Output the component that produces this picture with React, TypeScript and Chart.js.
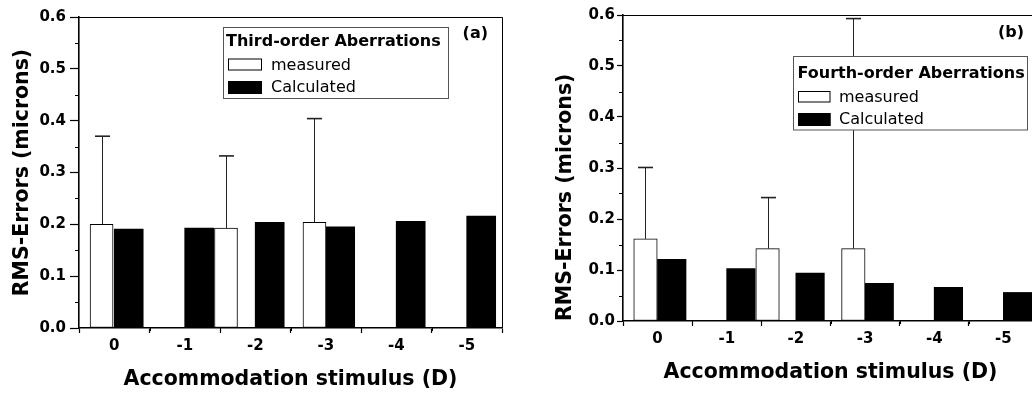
import React, { useEffect, useRef } from 'react';
import { Chart, registerables } from 'chart.js';

Chart.register(...registerables);

// ---------- data ----------
const stimulus = [0, -1, -2, -3, -4, -5];
const xTickValues = [0, -1, -2, -3, -4, -5];
const yTickValues = [0, 0.1, 0.2, 0.3, 0.4, 0.5, 0.6];
const seriesLabels = ['measured', 'Calculated'];

// (a) third-order aberrations
const thirdCalculated = [0.191, 0.193, 0.204, 0.195, 0.206, 0.216];
const thirdMeasuredAt = [0.18, -1.585, -2.84];
const thirdMeasured = [0.2, 0.193, 0.204];
const thirdMeasuredSD = [0.17, 0.139, 0.2];

// (b) fourth-order aberrations
const fourthCalculated = [0.121, 0.103, 0.094, 0.074, 0.066, 0.056];
const fourthMeasuredAt = [0.175, -1.59, -2.83];
const fourthMeasured = [0.161, 0.142, 0.142];
const fourthMeasuredSD = [0.14, 0.1, 0.451];

// ---------- layout ----------
const CALC_SHIFT = 0.205; // calculated bars sit just right of their tick
const FONT = 'DejaVu Sans';

type Panel = {
  legendTitle: string;
  letter: string;
  calc: number[];
  measAt: number[];
  meas: number[];
  sd: number[];
  width: number;
  padTop: number;
  padRight: number;
  yAxisWidth: number;
  xAxisHeight: number;
  yTickLen: number;
  yTickPad: number;
  yTitlePad: number;
  yTitleAlign: 'center' | 'start';
  xTitlePad: number;
  calcThick: number;
  measThick: number;
  legend: {
    x: number; y: number; w: number; h: number;
    titleX: number; titleY: number;
    swX: number; swW: number;
    sw1Y: number; sw1H: number; sw2Y: number; sw2H: number;
    textX: number; t1Y: number; t2Y: number;
  };
  letterX: number;
  letterY: number;
};

const panelA: Panel = {
  legendTitle: 'Third-order Aberrations',
  letter: '(a)',
  calc: thirdCalculated,
  measAt: thirdMeasuredAt,
  meas: thirdMeasured,
  sd: thirdMeasuredSD,
  width: 516,
  padTop: 17,
  padRight: 14,
  yAxisWidth: 79,
  xAxisHeight: 70,
  yTickLen: 9,
  yTickPad: 4,
  yTitlePad: 10.5,
  yTitleAlign: 'center',
  xTitlePad: 6.5,
  calcThick: 29,
  measThick: 23,
  legend: {
    x: 223.5, y: 27.5, w: 225, h: 71,
    titleX: 226, titleY: 45.5,
    swX: 228, swW: 34,
    sw1Y: 58.5, sw1H: 12, sw2Y: 81, sw2H: 13,
    textX: 271, t1Y: 70, t2Y: 91.5,
  },
  letterX: 488,
  letterY: 38,
};

const panelB: Panel = {
  legendTitle: 'Fourth-order Aberrations',
  letter: '(b)',
  calc: fourthCalculated,
  measAt: fourthMeasuredAt,
  meas: fourthMeasured,
  sd: fourthMeasuredSD,
  width: 540,
  padTop: 15,
  padRight: 18,
  yAxisWidth: 107,
  xAxisHeight: 77,
  yTickLen: 6,
  yTickPad: 2,
  yTitlePad: 37.5,
  yTitleAlign: 'start',
  xTitlePad: 13,
  calcThick: 28.5,
  measThick: 23.5,
  legend: {
    x: 277.5, y: 56.5, w: 234, h: 73.5,
    titleX: 281.5, titleY: 77.5,
    swX: 282, swW: 32.5,
    sw1Y: 91, sw1H: 11.5, sw2Y: 113, sw2H: 13,
    textX: 323, t1Y: 101.5, t2Y: 124,
  },
  letterX: 508,
  letterY: 37,
};

function makeDecor(p: Panel) {
  return {
    id: 'decor',
    afterDatasetsDraw(chart: any) {
      const { ctx, scales } = chart;
      const y = scales.y;
      const meta = chart.getDatasetMeta(0);
      const ds = chart.data.datasets[0].data as { x: number; y: number }[];
      ctx.save();
      ctx.strokeStyle = '#222';
      meta.data.forEach((bar: any, i: number) => {
        const top = y.getPixelForValue(ds[i].y + p.sd[i]);
        const bx = Math.round(bar.x) + 0.5;
        ctx.lineWidth = 1;
        ctx.beginPath();
        ctx.moveTo(bx, bar.y);
        ctx.lineTo(bx, top);
        ctx.stroke();
        ctx.lineWidth = 1.6;
        ctx.beginPath();
        ctx.moveTo(bx - 7.5, top);
        ctx.lineTo(bx + 7.5, top);
        ctx.stroke();
      });
      ctx.restore();
    },
    afterDraw(chart: any) {
      const { ctx, chartArea, scales } = chart;
      const xs = scales.x;
      const ys = scales.y;
      ctx.save();
      // thin top / right frame
      ctx.strokeStyle = '#000';
      ctx.lineWidth = 1;
      ctx.beginPath();
      ctx.moveTo(chartArea.left, chartArea.top + 0.5);
      ctx.lineTo(chartArea.right + 0.5, chartArea.top + 0.5);
      ctx.lineTo(chartArea.right + 0.5, chartArea.bottom);
      ctx.stroke();
      // minor ticks
      ctx.lineWidth = 1;
      for (let i = 0; i < yTickValues.length - 1; i++) {
        const v = (yTickValues[i] + yTickValues[i + 1]) / 2;
        const py = Math.round(ys.getPixelForValue(v)) + 0.5;
        ctx.beginPath();
        ctx.moveTo(chartArea.left, py);
        ctx.lineTo(chartArea.left - 4, py);
        ctx.stroke();
      }
      for (let i = 0; i < xTickValues.length - 1; i++) {
        const v = (xTickValues[i] + xTickValues[i + 1]) / 2;
        const px = Math.round(xs.getPixelForValue(v)) + 0.5;
        ctx.beginPath();
        ctx.moveTo(px, chartArea.bottom);
        ctx.lineTo(px, chartArea.bottom + 3);
        ctx.stroke();
      }
      // legend
      const L = p.legend;
      ctx.fillStyle = '#fff';
      ctx.fillRect(L.x, L.y, L.w, L.h);
      ctx.strokeStyle = '#555';
      ctx.lineWidth = 1;
      ctx.strokeRect(L.x, L.y, L.w, L.h);
      ctx.fillStyle = '#000';
      ctx.textBaseline = 'alphabetic';
      ctx.textAlign = 'left';
      ctx.font = `bold 16px "${FONT}"`;
      ctx.fillText(p.legendTitle, L.titleX, L.titleY);
      const dsets = chart.data.datasets;
      const rows = [
        { ds: dsets[0], sy: L.sw1Y, sh: L.sw1H, ty: L.t1Y },
        { ds: dsets[1], sy: L.sw2Y, sh: L.sw2H, ty: L.t2Y },
      ];
      ctx.font = `16px "${FONT}"`;
      rows.forEach((r) => {
        ctx.fillStyle = r.ds.backgroundColor;
        ctx.fillRect(L.swX, r.sy, L.swW, r.sh);
        ctx.strokeStyle = '#000';
        ctx.lineWidth = 1;
        ctx.strokeRect(L.swX + 0.5, r.sy + 0.5, L.swW - 1, r.sh - 1);
        ctx.fillStyle = '#000';
        ctx.fillText(r.ds.label, L.textX, r.ty);
      });
      // panel letter
      ctx.font = `bold 16px "${FONT}"`;
      ctx.textAlign = 'right';
      ctx.fillText(p.letter, p.letterX, p.letterY);
      ctx.restore();
    },
  };
}

function buildChart(canvas: HTMLCanvasElement, p: Panel) {
  const tickFont = { family: FONT, size: 15, weight: 'bold' as const };
  const titleFont = { family: FONT, size: 20.5, weight: 'bold' as const };
  return new Chart(canvas, {
    type: 'bar',
    data: {
      datasets: [
        {
          label: seriesLabels[0],
          data: p.measAt.map((x, i) => ({ x, y: p.meas[i] })),
          backgroundColor: '#ffffff',
          borderColor: '#000000',
          borderWidth: 1,
          barThickness: p.measThick,
          grouped: false,
          borderSkipped: false,
        } as any,
        {
          label: seriesLabels[1],
          data: stimulus.map((s, i) => ({ x: s - CALC_SHIFT, y: p.calc[i] })),
          backgroundColor: '#000000',
          borderColor: '#000000',
          borderWidth: 0,
          barThickness: p.calcThick,
          grouped: false,
        } as any,
      ],
    },
    options: {
      animation: false,
      responsive: false,
      devicePixelRatio: 1,
      events: [],
      layout: { padding: { top: p.padTop, right: p.padRight, left: 0, bottom: 0 } },
      plugins: {
        legend: { display: false },
        tooltip: { enabled: false },
        title: { display: false },
      },
      scales: {
        x: {
          type: 'linear',
          min: -5.5,
          max: 0.5,
          reverse: true,
          offset: false,
          afterBuildTicks: (s: any) => {
            s.ticks = xTickValues.map((v) => ({ value: v }));
          },
          afterFit: (s: any) => {
            s.height = p.xAxisHeight;
          },
          ticks: {
            autoSkip: false,
            maxRotation: 0,
            minRotation: 0,
            padding: 4,
            color: '#000',
            font: tickFont,
            callback: (v: any) => String(v),
          },
          grid: {
            display: true,
            drawOnChartArea: false,
            drawTicks: true,
            tickLength: 5,
            tickColor: '#000',
            tickWidth: 1.2,
          },
          border: { display: true, color: '#000', width: 1.6 },
          title: {
            display: true,
            text: 'Accommodation stimulus (D)',
            color: '#000',
            font: titleFont,
            padding: { top: 0, bottom: p.xTitlePad },
          },
        } as any,
        y: {
          type: 'linear',
          min: 0,
          max: 0.6,
          afterBuildTicks: (s: any) => {
            s.ticks = yTickValues.map((v) => ({ value: v }));
          },
          afterFit: (s: any) => {
            s.width = p.yAxisWidth;
          },
          ticks: {
            padding: p.yTickPad,
            color: '#000',
            font: tickFont,
            callback: (v: any) => Number(v).toFixed(1),
          },
          grid: {
            display: true,
            drawOnChartArea: false,
            drawTicks: true,
            tickLength: p.yTickLen,
            tickColor: '#000',
            tickWidth: 1.2,
          },
          border: { display: true, color: '#000', width: 1.6 },
          title: {
            display: true,
            text: 'RMS-Errors (microns)',
            color: '#000',
            font: titleFont,
            align: p.yTitleAlign,
            padding: { top: p.yTitlePad, bottom: 0 },
          },
        } as any,
      },
    },
    plugins: [makeDecor(p)],
  });
}

export default function App() {
  const refA = useRef<HTMLCanvasElement>(null);
  const refB = useRef<HTMLCanvasElement>(null);

  useEffect(() => {
    const a = buildChart(refA.current!, panelA);
    const b = buildChart(refB.current!, panelB);
    return () => {
      a.destroy();
      b.destroy();
    };
  }, []);

  return (
    <div
      style={{
        position: 'fixed',
        left: 0,
        top: 0,
        width: 1032,
        height: 398,
        overflow: 'hidden',
        background: '#fff',
      }}
    >
      <canvas
        ref={refA}
        width={panelA.width}
        height={398}
        style={{ position: 'absolute', left: 0, top: 0 }}
      />
      <canvas
        ref={refB}
        width={panelB.width}
        height={398}
        style={{ position: 'absolute', left: 516, top: 0 }}
      />
    </div>
  );
}
